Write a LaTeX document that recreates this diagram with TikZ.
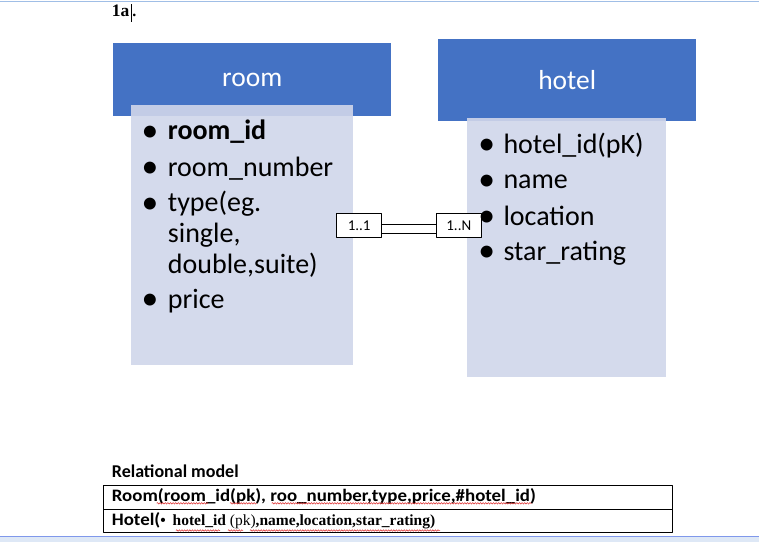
\documentclass[tikz,border=0pt]{standalone}
\usepackage{fontspec}
\usepackage{graphicx}
\setmainfont{Carlito}
\newfontfamily\tnr{Liberation Serif}
\usetikzlibrary{decorations.pathmorphing}
\definecolor{headblue}{RGB}{68,114,196}
\definecolor{bodyfill}{RGB}{208,214,234}
\definecolor{squigred}{RGB}{220,40,40}
\definecolor{pageline}{RGB}{160,190,230}
\definecolor{pageband}{RGB}{222,232,246}
\newcommand\bigbul{\raisebox{-1.7pt}{\scalebox{1.2}{\textbullet}}}
\tikzset{
	head/.style={fill=headblue, text=white, inner sep=0, anchor=north west, font=\fontsize{27.5}{30}\selectfont},
	body/.style={fill=bodyfill, fill opacity=0.91, inner sep=0, anchor=north west},
	item/.style={anchor=base west, inner sep=0, font=\fontsize{28}{32}\selectfont},
	bul/.style={anchor=base, inner sep=0, font=\fontsize{28}{32}\selectfont},
	card/.style={draw, fill=white, line width=0.8pt, inner sep=0, minimum width=45pt, minimum height=24pt, font=\fontsize{15}{17}\selectfont},
	row/.style={draw, line width=1pt, inner sep=0, anchor=north west, minimum width=568.4pt},
	rowtext/.style={anchor=base west, inner sep=0, font=\bfseries\fontsize{17.5}{20}\selectfont},
	squig/.style={draw=squigred, line width=0.5pt, decorate, decoration={snake, amplitude=0.8pt, segment length=2.6pt}}
}
\begin{document}
\begin{tikzpicture}[x=1pt, y=-1pt, line join=round]
	\useasboundingbox (0,0) rectangle (759,542);
	% page edges
	\draw[pageline, line width=1pt] (0,1) -- (759,1);
	\fill[pageband] (0,536) rectangle (759,542);
	\draw[pageline!80!blue, line width=0.8pt] (0,536) -- (759,536);
	% heading with cursor
	\node[anchor=base west, inner sep=0, font=\tnr\bfseries\fontsize{17.5}{20}\selectfont] (part) at (111.7,16.7) {1a};
	\draw[line width=0.9pt] (131.7,4) -- (131.7,21.7);
	\node[anchor=base west, inner sep=0, font=\tnr\bfseries\fontsize{16}{18}\selectfont] (partdot) at (132.2,16.7) {.};
	% entity boxes
	\node[head, minimum width=278pt, minimum height=73pt] (roomhead) at (113,43) {\raisebox{-1.5pt}{room}};
	\node[head, minimum width=258pt, minimum height=82pt] (hotelhead) at (438,39) {hotel};
	\node[body, minimum width=222pt, minimum height=260pt] (roombody) at (131,105) {};
	\node[body, minimum width=199pt, minimum height=259pt] (hotelbody) at (467,118) {};
	% relationship
	\node[card] (c11) at (359.2,225.3) {1..1};
	\node[card] (c1n) at (458.8,225.3) {1..N};
	\draw[double, line width=1.3pt, double distance=7.7pt] ([yshift=-3.5pt]c11.east) -- ([yshift=-3.5pt]c1n.west);
	% room attributes
	\node[bul] (rb1) at (150,139.5) {\bigbul};
	\node[item] (r1) at (167.7,139.5) {\textbf{room\_id}};
	\node[bul] (rb2) at (150,176) {\bigbul};
	\node[item] (r2) at (167.7,176) {room\_number};
	\node[bul] (rb3) at (150,211.5) {\bigbul};
	\node[item] (r3) at (167.7,211.5) {type(eg.};
	\node[item] (r3b) at (167.7,242) {single,};
	\node[item] (r3c) at (167.7,273) {double,suite)};
	\node[bul] (rb4) at (150,308) {\bigbul};
	\node[item] (r4) at (167.7,308) {price};
	% hotel attributes
	\node[bul] (hb1) at (486.7,153) {\bigbul};
	\node[item] (h1) at (503.3,153) {hotel\_id(pK)};
	\node[bul] (hb2) at (486.7,188.5) {\bigbul};
	\node[item] (h2) at (503.3,188.5) {name};
	\node[bul] (hb3) at (486.7,225) {\bigbul};
	\node[item] (h3) at (503.3,225) {location};
	\node[bul] (hb4) at (486.7,260) {\bigbul};
	\node[item] (h4) at (503.3,260) {star\_rating};
	% relational model
	\node[rowtext, font=\bfseries\fontsize{18}{20}\selectfont] (relhead) at (111.7,477.7) {Relational model};
	\node[row, minimum height=24.3pt] (row1) at (103.3,485) {};
	\node[row, minimum height=23pt] (row2) at (103.3,509.3) {};
	\node[rowtext] (roomrel) at (111.7,501.5) {\scalebox{1.08}[1]{Room(room\_id(pk), roo\_number,type,price,\#hotel\_id)}};
	\node[rowtext] (hotelrel) at (111.7,525.7) {\scalebox{1.08}[1]{Hotel(}{\tnr\fontsize{15.5}{17}\selectfont\textbullet\hspace{3pt} hotel\_id {\mdseries(pk)},name,location,star\_rating)}};
	% spell check marks
	\draw[squig] (156.7,503.3) -- (208,503.3);
	\draw[squig] (230,503.3) -- (256.7,503.3);
	\draw[squig] (271.7,503.3) -- (531.7,503.3);
	\draw[squig] (176,530.5) -- (220,530.5);
	\draw[squig] (228,530.5) -- (243,530.5);
	\draw[squig] (250,530.5) -- (440,530.5);
\end{tikzpicture}
\end{document}
